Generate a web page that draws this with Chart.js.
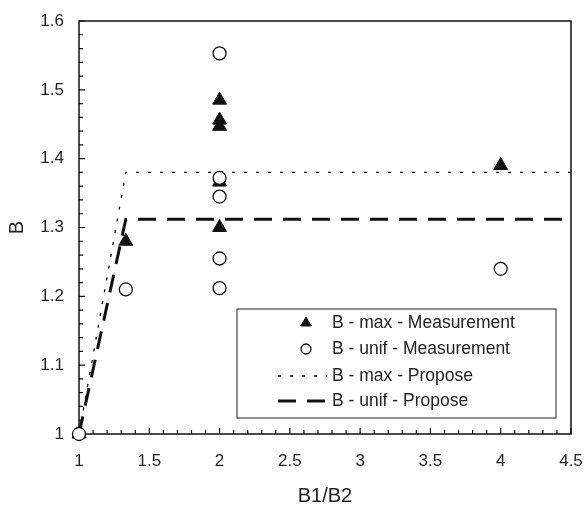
<!DOCTYPE html>
<html>
<head>
<meta charset="utf-8">
<title>B vs B1/B2</title>
<script src="https://cdn.jsdelivr.net/npm/chart.js@4.4.1/dist/chart.umd.min.js"></script>
<style>
  html, body { margin: 0; padding: 0; background: #fff; overflow: hidden; }
  #wrap { position: relative; width: 586px; height: 508px; }
  #bChart { display: block; }
</style>
</head>
<body>
<div id="wrap"><canvas id="bChart"></canvas></div>
<script>
// dữ liệu
const maxMeasX = [1, 1.333, 2, 2, 2, 2, 2, 4];
const maxMeasY = [1.0, 1.28, 1.485, 1.456, 1.447, 1.366, 1.30, 1.39];
const unifMeasX = [1, 1.333, 2, 2, 2, 2, 2, 4];
const unifMeasY = [1.0, 1.21, 1.553, 1.372, 1.345, 1.255, 1.212, 1.24];
const proposeX = [1, 1.333, 4.5];
const maxProposeY = [1.0, 1.38, 1.38];
const unifProposeY = [1.0, 1.312, 1.312];
const xTicks = [1, 1.5, 2, 2.5, 3, 3.5, 4, 4.5];
const yTicks = [1, 1.1, 1.2, 1.3, 1.4, 1.5, 1.6];

const FONT = "'Liberation Sans', Arial, Helvetica, sans-serif";
const TXT = '#222';

function toPoints(xs, ys) {
    return xs.map((x, i) => ({ x: x, y: ys[i] }));
}

// khung, vạch chia hướng vào trong và chú giải
const framePlugin = {
    id: 'framePlugin',
    beforeDatasetsDraw(chart) {
        const ctx = chart.ctx;
        const a = chart.chartArea;
        const xs = chart.scales.x, ys = chart.scales.y;
        ctx.save();
        ctx.strokeStyle = '#111';
        ctx.lineWidth = 1.5;
        ctx.strokeRect(a.left, a.top, a.right - a.left, a.bottom - a.top);

        ctx.lineWidth = 1.2;
        ctx.beginPath();
        for (let i = 0; i <= 35; i++) {
            const v = xs.min + i * 0.1;
            const px = xs.getPixelForValue(v);
            const len = (i % 5 === 0) ? 6 : 4;
            ctx.moveTo(px, a.bottom);
            ctx.lineTo(px, a.bottom - len);
        }
        for (let i = 0; i <= 30; i++) {
            const v = ys.min + i * 0.02;
            const py = ys.getPixelForValue(v);
            const len = (i % 5 === 0) ? 6 : 4;
            ctx.moveTo(a.left, py);
            ctx.lineTo(a.left + len, py);
        }
        ctx.stroke();
        ctx.restore();
    },
    afterDatasetsDraw(chart) {
        const ctx = chart.ctx;
        const a = chart.chartArea;
        ctx.save();
        // chú giải
        const bx = a.left + 158, by = a.top + 288;
        const bw = a.right - 15 - bx, bh = 109;
        ctx.fillStyle = '#fff';
        ctx.fillRect(bx, by, bw, bh);
        ctx.strokeStyle = '#222';
        ctx.lineWidth = 1;
        ctx.strokeRect(bx, by, bw, bh);

        const rows = [14, 40, 67, 92];
        const symX = bx + 69;
        const textX = bx + 95;
        ctx.font = '17.5px ' + FONT;
        ctx.textBaseline = 'middle';
        ctx.textAlign = 'left';
        chart.data.datasets.forEach((ds, i) => {
            const ry = by + rows[i];
            if (ds.showLine) {
                ctx.save();
                ctx.strokeStyle = ds.borderColor;
                ctx.lineWidth = ds.borderWidth;
                ctx.setLineDash(ds.borderDash || []);
                ctx.beginPath();
                ctx.moveTo(bx + 41, ry);
                ctx.lineTo(bx + 90, ry);
                ctx.stroke();
                ctx.restore();
            } else {
                ctx.fillStyle = ds.backgroundColor;
                ctx.strokeStyle = ds.borderColor;
                ctx.lineWidth = ds.borderWidth;
                ctx.beginPath();
                if (ds.pointStyle === 'triangle') {
                    ctx.moveTo(symX, ry - 6);
                    ctx.lineTo(symX + 5.2, ry + 3);
                    ctx.lineTo(symX - 5.2, ry + 3);
                    ctx.closePath();
                } else {
                    ctx.arc(symX, ry, 5, 0, Math.PI * 2);
                }
                ctx.fill();
                ctx.stroke();
            }
            ctx.fillStyle = TXT;
            ctx.fillText(ds.label, textX, ry);
        });
        ctx.restore();
    }
};

document.addEventListener("DOMContentLoaded", function() {
    const ctx = document.getElementById('bChart').getContext('2d');

    const chartData = {
        datasets: [{
            label: 'B - max - Measurement',
            data: toPoints(maxMeasX, maxMeasY),
            pointStyle: 'triangle',
            pointRadius: 8,
            backgroundColor: '#111',
            borderColor: '#111',
            borderWidth: 1,
            showLine: false,
            clip: false,
            order: 1
        }, {
            label: 'B - unif - Measurement',
            data: toPoints(unifMeasX, unifMeasY),
            pointStyle: 'circle',
            pointRadius: 6.5,
            backgroundColor: '#fff',
            borderColor: '#111',
            borderWidth: 1.3,
            showLine: false,
            clip: false,
            order: 0
        }, {
            label: 'B - max - Propose',
            data: toPoints(proposeX, maxProposeY),
            showLine: true,
            pointRadius: 0,
            borderColor: '#000',
            borderWidth: 1.3,
            borderDash: [3, 9],
            order: 2
        }, {
            label: 'B - unif - Propose',
            data: toPoints(proposeX, unifProposeY),
            showLine: true,
            pointRadius: 0,
            borderColor: '#111',
            borderWidth: 3,
            borderDash: [18, 11],
            order: 3
        }]
    };

    const chartOptions = {
        responsive: true,
        maintainAspectRatio: false,
        animation: false,
        layout: { autoPadding: false, padding: { top: 21, right: 15, bottom: 0, left: 0 } },
        plugins: {
            legend: { display: false },
            tooltip: { enabled: false }
        },
        scales: {
            x: {
                type: 'linear',
                min: 1,
                max: 4.5,
                afterBuildTicks: (s) => { s.ticks = xTicks.map(v => ({ value: v })); },
                afterFit: (s) => { s.height = 74; },
                // vạch chia tự vẽ; tickLength chỉ để đẩy nhãn xuống
                grid: { display: false, drawTicks: true, tickLength: 17 },
                border: { display: false },
                ticks: {
                    padding: 0,
                    color: TXT,
                    font: { family: FONT, size: 17 },
                    maxRotation: 0,
                    callback: (v) => String(+v.toFixed(2))
                },
                title: {
                    display: true,
                    text: 'B1/B2',
                    color: TXT,
                    font: { family: FONT, size: 20 },
                    padding: { top: 0, bottom: 0 }
                }
            },
            y: {
                type: 'linear',
                min: 1,
                max: 1.6,
                afterBuildTicks: (s) => { s.ticks = yTicks.map(v => ({ value: v })); },
                afterFit: (s) => { s.width = 79; },
                grid: { display: false, drawTicks: true, tickLength: 15 },
                border: { display: false },
                ticks: {
                    padding: 0,
                    color: TXT,
                    font: { family: FONT, size: 17 },
                    callback: (v) => String(+v.toFixed(2))
                },
                title: {
                    display: true,
                    text: 'B',
                    color: TXT,
                    font: { family: FONT, size: 20 },
                    padding: { top: 5, bottom: 0 }
                }
            }
        }
    };

    new Chart(ctx, {
        type: 'scatter',
        data: chartData,
        options: chartOptions,
        plugins: [framePlugin]
    });
});
</script>
</body>
</html>
